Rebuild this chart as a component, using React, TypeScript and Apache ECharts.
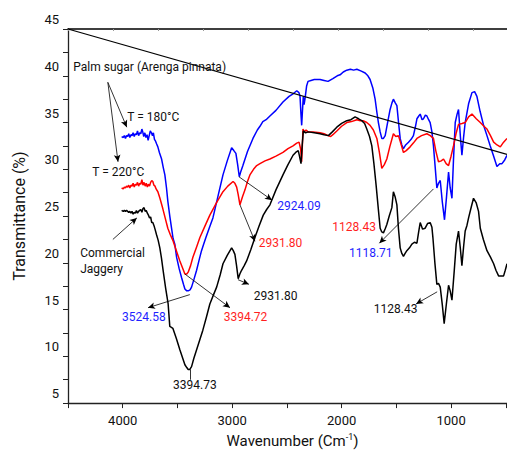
import React, { useEffect, useRef } from "react";
import * as echarts from "echarts";

// Palm sugar T = 180 °C (blue)
const blueData: [number, number][] = [
  [4010, 33.5], [3995, 33.4], [3985, 33.6], [3975, 33.3], [3965, 33.6], [3955, 33.5], [3945, 33.8],
  [3935, 33.4], [3925, 33.7], [3915, 33.6], [3905, 33.9], [3895, 33.5], [3885, 33.8], [3875, 33.7],
  [3865, 34.1], [3855, 33.6], [3845, 33.9], [3835, 33.8], [3825, 34.3], [3817, 34.0], [3808, 33.5],
  [3798, 33.9], [3788, 33.4], [3778, 33.7], [3768, 33.1], [3758, 33.6], [3748, 34.1], [3738, 33.9],
  [3728, 33.6], [3720, 33.9], [3710, 33.2], [3700, 33.0], [3690, 32.7], [3679, 32.4], [3665, 31.8],
  [3645, 31.1], [3630, 30.2], [3615, 29.4], [3600, 28.0], [3588, 26.6], [3570, 25.0], [3554, 23.7],
  [3540, 22.6], [3524, 22.0], [3508, 20.6], [3485, 19.4], [3462, 18.4], [3445, 17.7], [3432, 17.2],
  [3415, 17.0], [3402, 17.0], [3385, 17.1], [3371, 17.4], [3350, 18.2], [3325, 19.2], [3300, 20.4],
  [3280, 21.3], [3260, 22.0], [3240, 22.7], [3210, 23.7], [3176, 24.8], [3130, 27.1], [3084, 29.4],
  [3045, 30.9], [3005, 32.3], [2985, 32.0], [2966, 31.7], [2950, 30.5], [2935, 29.2], [2920, 29.8],
  [2902, 30.4], [2860, 31.9], [2810, 33.3], [2770, 34.2], [2746, 34.6], [2720, 35.1], [2690, 35.3],
  [2655, 35.7], [2600, 36.3], [2536, 37.2], [2480, 37.8], [2440, 38.1], [2410, 38.4], [2390, 38.2],
  [2380, 37.8], [2372, 36.0], [2365, 34.7], [2358, 36.2], [2350, 37.8], [2343, 36.9], [2335, 37.5],
  [2320, 38.9], [2307, 39.4], [2280, 39.5], [2250, 39.6], [2197, 39.6], [2160, 39.5], [2124, 39.4],
  [2080, 39.7], [2040, 40.0], [2014, 40.1], [1985, 40.4], [1953, 40.6], [1920, 40.7], [1890, 40.6],
  [1861, 40.7], [1820, 40.5], [1785, 40.3], [1760, 40.0], [1740, 39.6], [1715, 38.7], [1694, 37.5],
  [1678, 36.1], [1664, 35.0], [1648, 34.0], [1633, 33.3], [1618, 33.3], [1602, 33.6], [1580, 35.0],
  [1557, 36.4], [1540, 37.1], [1527, 37.5], [1510, 37.1], [1495, 36.8], [1480, 35.0], [1465, 33.3],
  [1450, 32.6], [1435, 32.2], [1415, 32.6], [1389, 32.9], [1365, 33.2], [1344, 33.6], [1325, 34.6],
  [1312, 35.4], [1295, 35.7], [1282, 35.9], [1265, 35.3], [1252, 35.4], [1235, 35.8], [1221, 35.7],
  [1205, 35.3], [1191, 35.0], [1175, 34.0], [1161, 32.5], [1145, 30.2], [1130, 28.0], [1115, 28.5],
  [1099, 28.8], [1080, 26.5], [1060, 24.6], [1042, 27.0], [1023, 29.7], [1008, 28.0], [992, 26.9],
  [978, 31.0], [962, 35.0], [945, 35.9], [932, 36.4], [915, 33.5], [901, 31.5], [885, 33.5],
  [871, 35.0], [840, 37.0], [809, 38.2], [785, 38.3], [764, 37.8], [735, 36.2], [703, 34.7],
  [672, 33.6], [642, 32.5], [611, 31.4], [581, 30.3], [555, 30.6], [535, 30.6], [510, 31.0], [489, 31.5],
];

// Palm sugar T = 220 °C (red)
const redData: [number, number][] = [
  [4010, 28.0], [3995, 27.9], [3985, 28.1], [3975, 28.0], [3965, 28.2], [3955, 28.1], [3945, 28.3],
  [3935, 28.0], [3925, 28.3], [3915, 28.2], [3905, 28.5], [3895, 28.1], [3885, 28.4], [3875, 28.3],
  [3865, 28.6], [3855, 28.2], [3845, 28.5], [3835, 28.4], [3825, 28.9], [3815, 28.3], [3805, 28.6],
  [3795, 28.2], [3785, 28.5], [3775, 28.1], [3765, 28.4], [3755, 28.2], [3745, 28.6], [3735, 28.8],
  [3725, 28.7], [3715, 28.3], [3705, 28.2], [3695, 27.9], [3679, 27.6], [3660, 26.9], [3634, 25.8],
  [3610, 24.7], [3588, 23.7], [3565, 23.0], [3542, 22.4], [3510, 21.3], [3478, 20.2], [3455, 19.5],
  [3432, 18.8], [3415, 18.8], [3402, 19.0], [3380, 19.7], [3359, 20.6], [3325, 21.7], [3295, 22.7],
  [3250, 23.9], [3204, 25.1], [3140, 26.5], [3084, 27.6], [3040, 28.2], [2992, 28.7], [2975, 28.5],
  [2959, 28.1], [2945, 27.3], [2929, 26.2], [2905, 27.1], [2883, 27.8], [2860, 28.7], [2838, 29.4],
  [2805, 30.0], [2776, 30.4], [2746, 30.6], [2700, 30.9], [2655, 31.1], [2600, 31.4], [2536, 31.8],
  [2490, 32.2], [2444, 32.5], [2410, 32.8], [2389, 32.9], [2375, 32.2], [2365, 30.8], [2358, 32.8],
  [2353, 34.3], [2340, 34.0], [2325, 34.2], [2307, 34.0], [2260, 34.0], [2197, 33.9], [2160, 33.8],
  [2124, 33.6], [2100, 33.5], [2080, 33.7], [2044, 34.1], [2000, 34.6], [1953, 35.0], [1910, 35.1],
  [1861, 35.3], [1830, 35.2], [1804, 35.2], [1770, 35.0], [1740, 34.7], [1710, 34.2], [1678, 33.3],
  [1655, 31.8], [1633, 30.1], [1610, 30.5], [1587, 31.1], [1560, 32.4], [1527, 33.8], [1505, 33.5],
  [1481, 33.6], [1460, 32.8], [1435, 31.8], [1410, 32.0], [1374, 32.4], [1345, 32.8], [1312, 33.3],
  [1270, 33.6], [1221, 33.8], [1190, 33.6], [1161, 33.3], [1140, 32.0], [1115, 30.8], [1090, 30.9],
  [1069, 31.1], [1045, 30.6], [1023, 30.4], [1000, 31.4], [978, 32.5], [955, 33.8], [932, 34.8],
  [900, 34.9], [871, 35.0], [840, 35.6], [809, 35.9], [770, 35.4], [733, 35.0], [700, 34.6],
  [672, 34.3], [640, 33.6], [611, 32.9], [580, 32.6], [550, 32.4], [520, 32.9], [489, 33.3],
];

// Commercial jaggery (black)
const blackData: [number, number][] = [
  [4010, 25.6], [3995, 25.5], [3985, 25.6], [3975, 25.5], [3965, 25.6], [3955, 25.5], [3945, 25.4],
  [3935, 25.5], [3925, 25.3], [3915, 25.5], [3905, 25.2], [3895, 25.4], [3885, 25.3], [3875, 25.6],
  [3865, 25.3], [3855, 25.5], [3845, 25.6], [3835, 25.7], [3825, 25.4], [3815, 25.8], [3805, 25.9],
  [3795, 25.5], [3785, 25.6], [3775, 25.3], [3765, 25.1], [3755, 24.8], [3745, 24.9], [3735, 24.3],
  [3725, 24.3], [3715, 24.0], [3705, 23.6], [3691, 23.0], [3676, 22.4], [3661, 21.6], [3646, 20.5],
  [3631, 19.2], [3608, 17.3], [3585, 15.6], [3570, 13.2], [3555, 13.1], [3542, 13.0], [3510, 11.9],
  [3478, 10.7], [3455, 9.9], [3432, 9.1], [3415, 8.8], [3402, 8.6], [3387, 8.6], [3371, 8.9],
  [3350, 9.8], [3325, 10.7], [3295, 11.8], [3268, 12.8], [3235, 14.2], [3204, 15.6], [3170, 16.6],
  [3142, 17.4], [3110, 18.7], [3084, 19.9], [3045, 20.8], [3005, 21.6], [2990, 21.3], [2975, 20.9],
  [2960, 19.7], [2945, 18.3], [2930, 18.8], [2914, 19.2], [2890, 19.7], [2868, 20.2], [2830, 21.4],
  [2792, 22.7], [2755, 23.9], [2716, 25.1], [2685, 25.7], [2655, 26.2], [2600, 27.8], [2536, 29.4],
  [2490, 30.5], [2444, 31.5], [2420, 31.8], [2396, 32.0], [2385, 31.4], [2371, 30.6], [2360, 32.6],
  [2350, 34.1], [2330, 33.9], [2304, 34.0], [2250, 33.9], [2197, 33.8], [2160, 33.7], [2121, 33.6],
  [2085, 34.0], [2044, 34.5], [2000, 34.9], [1953, 35.2], [1915, 35.3], [1877, 35.6], [1845, 35.4],
  [1816, 35.2], [1790, 34.9], [1770, 34.3], [1745, 33.5], [1724, 32.5], [1705, 30.6], [1685, 28.3],
  [1665, 25.8], [1648, 23.7], [1633, 23.3], [1618, 23.2], [1600, 23.7], [1587, 24.1], [1565, 25.0],
  [1541, 25.9], [1527, 27.6], [1510, 27.0], [1495, 26.2], [1481, 23.7], [1465, 21.6], [1450, 21.0],
  [1435, 20.7], [1420, 21.0], [1404, 21.3], [1380, 21.6], [1358, 22.0], [1335, 22.2], [1312, 22.1],
  [1295, 23.4], [1282, 24.3], [1260, 23.6], [1237, 23.7], [1215, 24.2], [1191, 24.3], [1175, 23.8],
  [1166, 22.7], [1148, 20.0], [1130, 17.7], [1115, 17.8], [1099, 17.4], [1080, 15.5], [1063, 13.5],
  [1043, 15.6], [1023, 17.6], [1008, 17.0], [992, 16.0], [972, 19.0], [953, 22.0], [932, 23.4],
  [915, 21.5], [901, 19.7], [885, 21.8], [871, 23.4], [855, 24.0], [840, 24.8], [815, 26.0],
  [795, 26.9], [770, 26.4], [749, 25.5], [733, 23.7], [705, 22.5], [672, 21.3], [640, 20.6],
  [611, 19.9], [590, 19.2], [566, 18.6], [540, 18.6], [520, 18.6], [505, 19.2], [489, 19.9],
];

// straight reference line drawn across the plot
const diagonalData: [number, number][] = [[4500, 45], [489, 31.6]];

const xLabelValues = [1000, 2000, 3000, 4000];
const xTickValues = [500, 1000, 1500, 2000, 2500, 3000, 3500, 4000, 4500];

// annotation texts: [label, x, y, colour]
const annotationTexts: [string, number, number, string][] = [
  ["Palm sugar (Arenga pinnata)", 4456, 40.9, "#111"],
  ["T = 180°C", 3963, 35.6, "#111"],
  ["T = 220°C", 4283, 29.7, "#111"],
  ["Commercial\nJaggery", 4393, 20.2, "#111"],
  ["3524.58", 4011, 14.2, "#1f1fff"],
  ["3394.72", 3082, 14.2, "#ff1f1f"],
  ["3394.73", 3545, 6.9, "#111"],
  ["2931.80", 2762, 22.1, "#ff1f1f"],
  ["2924.09", 2593, 26.1, "#1f1fff"],
  ["2931.80", 2807, 16.5, "#111"],
  ["1128.43", 2090, 23.8, "#ff1f1f"],
  ["1118.71", 1938, 21.0, "#1f1fff"],
  ["1128.43", 1710, 15.1, "#111"],
];

// arrows: [x1, y1, x2, y2, hasHead]
const arrows: [number, number, number, number, boolean][] = [
  [4136, 39.3, 3963, 34.5, true],
  [4136, 39.3, 4043, 30.8, true],
  [4090, 22.5, 3871, 24.8, true],
  [3387, 16.6, 3769, 15.2, true],
  [3432, 18.8, 3020, 15.2, true],
  [3387, 8.6, 3387, 7.5, false],
  [2938, 29.2, 2636, 26.7, true],
  [2929, 26.2, 2792, 22.3, true],
  [2947, 18.2, 2847, 17.7, true],
  [1161, 27.9, 1655, 22.1, true],
  [1127, 16.9, 1320, 15.6, true],
];

const FONT = "Roboto";

export default function App() {
  const ref = useRef<HTMLDivElement>(null);
  useEffect(() => {
    if (!ref.current) return;
    const chart = echarts.init(ref.current, undefined, { renderer: "svg" });
    const option: any = {
      animation: false,
      backgroundColor: "#fff",
      textStyle: { fontFamily: FONT },
      grid: { left: 68, right: 0, top: 29, bottom: 46, containLabel: false },
      xAxis: [
        {
          type: "value",
          position: "bottom",
          min: 489,
          max: 4500,
          inverse: true,
          name: "Wavenumber (Cm{sup|-1})",
          nameLocation: "middle",
          nameGap: 24,
          nameTextStyle: {
            fontSize: 15,
            color: "#111",
            fontFamily: FONT,
            padding: [0, 0, 0, 10],
            rich: { sup: { fontSize: 9, verticalAlign: "top", padding: [0, 0, 8, 0], color: "#111", fontFamily: FONT } },
          },
          axisLine: { show: true, lineStyle: { color: "#222", width: 1.3 } },
          axisTick: { show: true, inside: false, length: 5, customValues: xTickValues, lineStyle: { color: "#222", width: 1 } },
          axisLabel: {
            customValues: xLabelValues,
            fontSize: 13,
            color: "#111",
            margin: 11,
            fontFamily: FONT,
            formatter: (v: number) => String(v),
          },
          splitLine: { show: false },
        },
        {
          type: "value",
          position: "top",
          min: 0,
          max: 9.74,
          interval: 1,
          axisLine: { show: true, lineStyle: { color: "#000", width: 1.5 } },
          axisTick: { show: true, inside: true, length: 2, lineStyle: { color: "#999" } },
          axisLabel: { show: false },
          splitLine: { show: false },
        },
      ],
      yAxis: {
        type: "value",
        min: 5,
        max: 45,
        interval: 5,
        name: "Transmittance (%)",
        nameLocation: "middle",
        nameGap: 41,
        nameTextStyle: { fontSize: 16, color: "#111", fontFamily: FONT },
        axisLine: { show: true, lineStyle: { color: "#222", width: 1.3 } },
        axisTick: { show: true, inside: false, length: 5, lineStyle: { color: "#222" } },
        minorTick: { show: true, splitNumber: 2, length: 5, lineStyle: { color: "#222" } },
        axisLabel: {
          fontSize: 13,
          color: "#111",
          margin: 9,
          verticalAlign: "bottom",
          padding: [0, 0, 3, 0],
          fontFamily: FONT,
          formatter: (v: number) => String(v),
        },
        splitLine: { show: false },
        minorSplitLine: { show: false },
      },
      series: [
        {
          type: "line",
          name: "T180",
          data: blueData,
          showSymbol: false,
          symbol: "none",
          lineStyle: { color: "#0000ff", width: 1.5 },
          z: 3,
        },
        {
          type: "line",
          name: "T220",
          data: redData,
          showSymbol: false,
          symbol: "none",
          lineStyle: { color: "#ff0000", width: 1.5 },
          z: 3,
        },
        {
          type: "line",
          name: "Jaggery",
          data: blackData,
          showSymbol: false,
          symbol: "none",
          lineStyle: { color: "#000000", width: 1.5 },
          z: 3,
        },
        {
          type: "line",
          name: "diag",
          data: diagonalData,
          showSymbol: false,
          symbol: "none",
          lineStyle: { color: "#000000", width: 1.2 },
          z: 4,
          markLine: {
            silent: true,
            animation: false,
            symbol: ["none", "arrow"],
            symbolSize: [5, 7],
            lineStyle: { color: "#000", width: 0.8, type: "solid" },
            label: { show: false },
            emphasis: { disabled: true },
            data: arrows.map(([x1, y1, x2, y2, head]) => [
              { coord: [x1, y1], symbol: "none" },
              { coord: [x2, y2], symbol: head ? "arrow" : "none" },
            ]),
          },
          markPoint: {
            silent: true,
            animation: false,
            symbol: "circle",
            symbolSize: 1,
            itemStyle: { color: "rgba(0,0,0,0)" },
            data: annotationTexts.map(([text, x, y, color]) => ({
              coord: [x, y],
              label: {
                show: true,
                position: "right",
                distance: 0,
                formatter: text,
                color,
                fontSize: 12,
                lineHeight: 16,
                fontFamily: FONT,
              },
            })),
          },
        },
      ],
    };
    chart.setOption(option);
    return () => chart.dispose();
  }, []);
  return (
    <div
      ref={ref}
      style={{ position: "fixed", left: 0, top: 0, width: 507, height: 453, background: "#fff" }}
    />
  );
}
